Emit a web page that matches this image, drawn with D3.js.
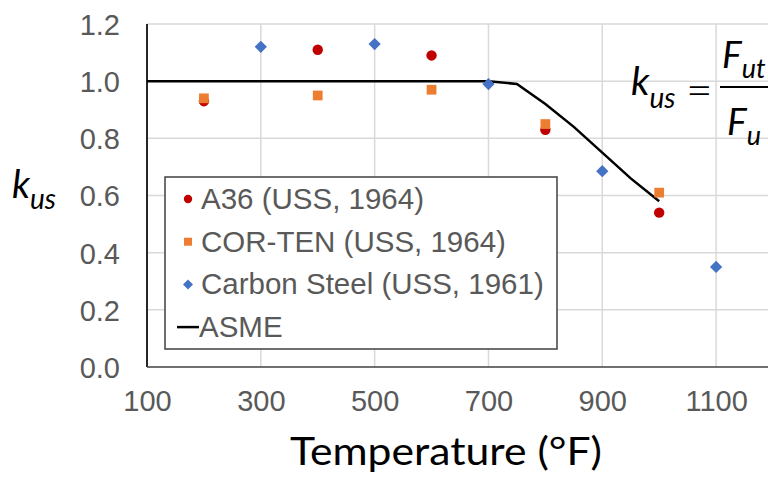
<!DOCTYPE html>
<html>
<head>
<script src="https://d3js.org/d3.v7.min.js"></script>
<style>
  body { margin: 0; background: #fff; }
  svg { display: block; }
</style>
</head>
<body>
<div id="chart"></div>
<script>
// data
var a36Temp = [200, 400, 600, 800, 1000];
var a36Vals = [0.93, 1.11, 1.09, 0.83, 0.54];
var corTemp = [200, 400, 600, 800, 1000];
var corVals = [0.94, 0.95, 0.97, 0.85, 0.61];
var csTemp = [300, 500, 700, 900, 1100];
var csVals = [1.12, 1.13, 0.99, 0.685, 0.35];
var asmeTemp = [100, 700, 750, 800, 850, 900, 950, 1000];
var asmeVals = [1.0, 1.0, 0.99, 0.92, 0.84, 0.75, 0.66, 0.58];
var xTicks = [100, 300, 500, 700, 900, 1100];
var yTicks = [0, 0.2, 0.4, 0.6, 0.8, 1.0, 1.2];
var legendNames = ["A36 (USS, 1964)", "COR-TEN (USS, 1964)", "Carbon Steel (USS, 1961)", "ASME"];

var W = 768, H = 480;
var svg = d3.select("#chart").append("svg")
    .attr("width", W).attr("height", H);

var x = d3.scaleLinear().domain([100, 1200]).range([147, 773]);
var y = d3.scaleLinear().domain([0, 1.2]).range([367, 24]);

var tickFont = "'Liberation Sans', Arial, sans-serif";

// gridlines
svg.append("g")
    .selectAll("line.vg")
    .data(d3.range(300, 1201, 200))
    .enter().append("line")
    .attr("x1", d => x(d)).attr("x2", d => x(d))
    .attr("y1", y(1.2)).attr("y2", y(0))
    .attr("stroke", "#d9d9d9").attr("stroke-width", 1.5);
svg.append("g")
    .selectAll("line.hg")
    .data(yTicks.slice(1))
    .enter().append("line")
    .attr("x1", x(100)).attr("x2", W)
    .attr("y1", d => y(d)).attr("y2", d => y(d))
    .attr("stroke", "#d9d9d9").attr("stroke-width", 1.5);

// axes (labels only, lines drawn separately)
var yAxis = svg.append("g")
    .attr("transform", "translate(" + x(100) + ",0)")
    .call(d3.axisLeft(y).tickValues(yTicks).tickFormat(d3.format(".1f")).tickSize(0).tickPadding(27));
yAxis.select(".domain").remove();
yAxis.selectAll("text")
    .attr("font-family", tickFont).attr("font-size", 29).attr("fill", "#595959")
    .attr("dy", "0.36em");

var xAxis = svg.append("g")
    .attr("transform", "translate(0," + y(0) + ")")
    .call(d3.axisBottom(x).tickValues(xTicks).tickFormat(d3.format("d")).tickSize(0).tickPadding(23));
xAxis.select(".domain").remove();
xAxis.selectAll("text")
    .attr("font-family", tickFont).attr("font-size", 29).attr("fill", "#595959");

svg.append("line")
    .attr("x1", x(100)).attr("x2", x(100))
    .attr("y1", y(1.2)).attr("y2", y(0))
    .attr("stroke", "#262626").attr("stroke-width", 2);
svg.append("line")
    .attr("x1", x(100)).attr("x2", W)
    .attr("y1", y(0)).attr("y2", y(0))
    .attr("stroke", "#404040").attr("stroke-width", 1.5);

// ASME line
var line = d3.line().x(d => x(d[0])).y(d => y(d[1]));
svg.append("path")
    .datum(d3.zip(asmeTemp, asmeVals))
    .attr("d", line)
    .attr("fill", "none").attr("stroke", "#000").attr("stroke-width", 2.5);

// markers
var circ = d3.symbol().type(d3.symbolCircle).size(85);
var sq = d3.symbol().type(d3.symbolSquare).size(95);
var dia = d3.symbol().type(d3.symbolSquare).size(75); // rotated 45 below

function drawPts(temps, vals, sym, color, rot) {
  svg.append("g").selectAll("path")
      .data(d3.zip(temps, vals))
      .enter().append("path")
      .attr("d", sym)
      .attr("transform", d => "translate(" + x(d[0]) + "," + y(d[1]) + ") rotate(" + rot + ")")
      .attr("fill", color);
}
drawPts(a36Temp, a36Vals, circ, "#c00000", 0);
drawPts(corTemp, corVals, sq, "#ed7d31", 0);
drawPts(csTemp, csVals, dia, "#4472c4", 45);

// legend
var lg = svg.append("g");
lg.append("rect")
    .attr("x", 165).attr("y", 177).attr("width", 392).attr("height", 172)
    .attr("fill", "#fff").attr("stroke", "#404040").attr("stroke-width", 1.5);
var legColors = ["#c00000", "#ed7d31", "#4472c4"];
var legRot = [0, 0, 45];
var legSym = [d3.symbol().type(d3.symbolCircle).size(55),
              d3.symbol().type(d3.symbolSquare).size(64),
              d3.symbol().type(d3.symbolSquare).size(50)];
legendNames.forEach(function(name, i) {
  var base = 209 + i * 42.7;
  if (i < 3) {
    lg.append("path").attr("d", legSym[i])
        .attr("transform", "translate(188," + (base - 10) + ") rotate(" + legRot[i] + ")")
        .attr("fill", legColors[i]);
    lg.append("text").attr("x", 201).attr("y", base)
        .attr("font-family", tickFont).attr("font-size", 29.5).attr("fill", "#595959")
        .text(name);
  } else {
    lg.append("line").attr("x1", 177).attr("x2", 199)
        .attr("y1", base - 10).attr("y2", base - 10)
        .attr("stroke", "#000").attr("stroke-width", 2.5);
    lg.append("text").attr("x", 199).attr("y", base)
        .attr("font-family", tickFont).attr("font-size", 29.5).attr("fill", "#595959")
        .text(name);
  }
});

// axis titles
var titleFont = "Lato, 'Open Sans', sans-serif";
svg.append("text")
    .attr("x", 290).attr("y", 465)
    .attr("textLength", 312).attr("lengthAdjust", "spacingAndGlyphs")
    .attr("font-family", titleFont).attr("font-size", 39).attr("fill", "#000")
    .text("Temperature (°F)");

var yt = svg.append("text")
    .attr("x", 12).attr("y", 198)
    .attr("font-family", titleFont).attr("font-style", "italic").attr("fill", "#000");
yt.append("tspan").attr("font-size", 38).text("k");
yt.append("tspan").attr("font-size", 28).attr("dy", 11).text("us");

// formula
var fm = svg.append("g").attr("font-family", titleFont).attr("fill", "#000");
var k2 = fm.append("text").attr("x", 631).attr("y", 95).attr("font-style", "italic");
k2.append("tspan").attr("font-size", 39).text("k");
k2.append("tspan").attr("font-size", 28).attr("dy", 13).text("us");
fm.append("text").attr("x", 686).attr("y", 106)
    .attr("font-size", 46).attr("font-weight", 300).text("=");
fm.append("line").attr("x1", 720).attr("x2", 768).attr("y1", 87).attr("y2", 87)
    .attr("stroke", "#000").attr("stroke-width", 2);
var num = fm.append("text").attr("x", 722).attr("y", 68).attr("font-style", "italic");
num.append("tspan").attr("font-size", 37).text("F");
num.append("tspan").attr("font-size", 27).attr("dy", 10).text("ut");
var den = fm.append("text").attr("x", 727).attr("y", 135).attr("font-style", "italic");
den.append("tspan").attr("font-size", 37).text("F");
den.append("tspan").attr("font-size", 27).attr("dy", 10).text("u");
</script>
</body>
</html>
